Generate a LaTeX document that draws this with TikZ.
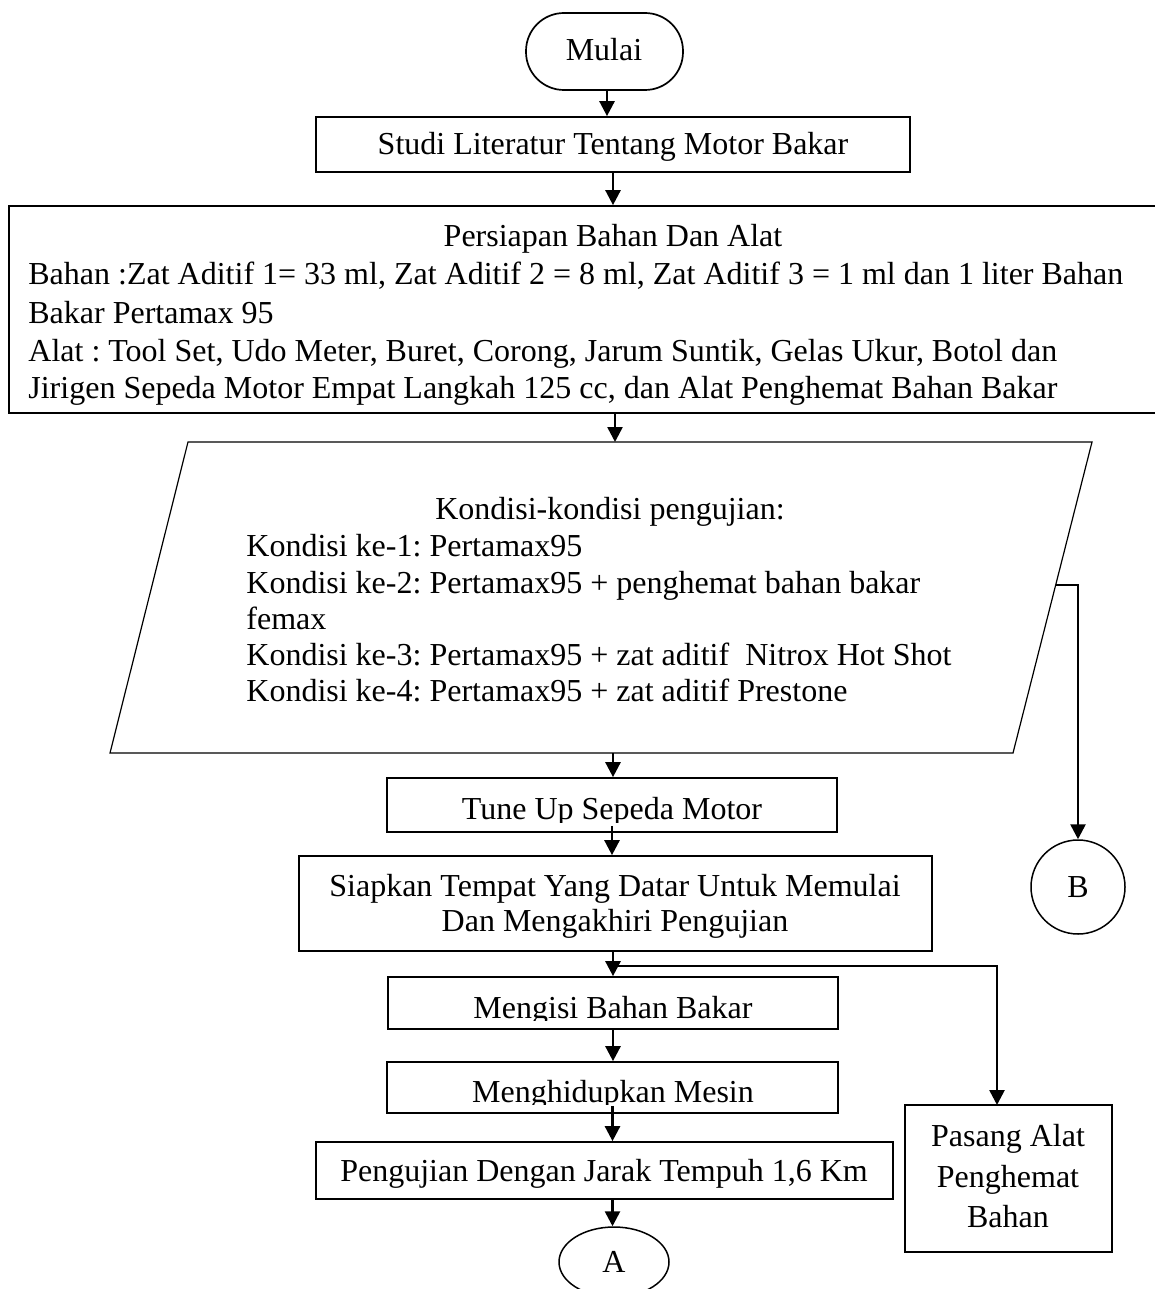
\documentclass[tikz,border=0pt]{standalone}
\usepackage{fontspec}
\setmainfont{Liberation Serif}
\usetikzlibrary{arrows.meta,fit,shapes.geometric}
\begin{document}
\frenchspacing
\begin{tikzpicture}[x=0.5pt,y=-0.5pt,
  font=\fontsize{16}{19}\selectfont,
  box/.style={draw, line width=0.85pt, inner sep=0pt},
  txt/.style={inner sep=0pt, anchor=base},
  ltxt/.style={inner sep=0pt, anchor=base west},
  arr/.style={line width=1.3pt, -{Triangle[length=7.5pt,width=7.5pt]}},
  conn/.style={line width=1.3pt}]
\useasboundingbox (0,0) rectangle (1155,1289);

% Mulai
\node[box, rounded corners=19pt, fit={(526,13) (683,90)}] (mulai) {};
\node[txt] (mulaitxt) at (604,61) {Mulai};

% Studi
\node[box, fit={(316,117) (910,172)}] (studi) {};
\node[txt] (studitxt) at (613,155) {Studi Literatur Tentang Motor Bakar};

% Persiapan
\node[box, fit={(9,206) (1175,413)}] (pers) {};
\node[txt] (pers0) at (613,247) {Persiapan Bahan Dan Alat};
\node[ltxt] (pers1) at (28,285) {Bahan :Zat Aditif 1= 33 ml, Zat Aditif 2 = 8 ml, Zat Aditif 3 = 1 ml dan 1 liter Bahan};
\node[ltxt] (pers2) at (28,323) {Bakar Pertamax 95};
\node[ltxt] (pers3) at (28,361) {Alat : Tool Set, Udo Meter, Buret, Corong, Jarum Suntik, Gelas Ukur, Botol dan};
\node[ltxt] (pers4) at (28,398) {Jirigen Sepeda Motor Empat Langkah 125 cc, dan Alat Penghemat Bahan Bakar};

% Parallelogram
\coordinate (q1) at (188,442);
\coordinate (q2) at (1092,442);
\coordinate (q3) at (1013,753);
\coordinate (q4) at (110,753);
\draw[line width=0.6pt] (q1) -- (q2) -- (q3) -- (q4) -- cycle;
\coordinate (qin) at (615,442);
\coordinate (qout) at (613,753);
\coordinate (qB) at (1056,585);
\node[txt] (k0) at (610,519) {Kondisi-kondisi pengujian:};
\node[ltxt] (k1) at (246,556) {Kondisi ke-1: Pertamax95};
\node[ltxt] (k2) at (246,593) {Kondisi ke-2: Pertamax95 + penghemat bahan bakar};
\node[ltxt] (k3) at (246,629) {femax};
\node[ltxt] (k4) at (246,665) {Kondisi ke-3: Pertamax95 + zat aditif \ Nitrox Hot Shot};
\node[ltxt] (k5) at (246,701) {Kondisi ke-4: Pertamax95 + zat aditif Prestone};

% B connector
\node[draw, circle, line width=0.75pt, minimum size=47pt, inner sep=0pt] (B) at (1078,887) {B};

% Tune up
\node[box, fit={(387,778) (837,832)}] (tune) {};
\begin{scope}
\clip (387,778) rectangle (837,822);
\node[txt] (tunetxt) at (612,819) {Tune Up Sepeda Motor};
\end{scope}

% Siapkan
\node[box, fit={(299,856) (932,951)}] (siap) {};
\node[txt] (siap1) at (615,896) {Siapkan Tempat Yang Datar Untuk Memulai};
\node[txt] (siap2) at (615,931) {Dan Mengakhiri Pengujian};

% Mengisi
\node[box, fit={(388,977) (838,1029)}] (isi) {};
\begin{scope}
\clip (388,977) rectangle (838,1020);
\node[txt] (isitxt) at (613,1018) {Mengisi Bahan Bakar};
\end{scope}

% Menghidupkan
\node[box, fit={(387,1062) (838,1113)}] (hidup) {};
\begin{scope}
\clip (387,1062) rectangle (838,1104);
\node[txt] (hiduptxt) at (613,1102) {Menghidupkan Mesin};
\end{scope}

% Pengujian
\node[box, fit={(316,1142) (893,1199)}] (uji) {};
\node[txt] (ujitxt) at (604,1181) {Pengujian Dengan Jarak Tempuh 1,6 Km};

% A
\node[draw, ellipse, line width=0.75pt, minimum width=55pt, minimum height=35pt, inner sep=0pt] (A) at (614,1262) {A};

% Pasang
\node[box, fit={(905,1105) (1112,1252)}] (pasang) {};
\node[txt] (pas1) at (1008,1146) {Pasang Alat};
\node[txt] (pas2) at (1008,1187) {Penghemat};
\node[txt] (pas3) at (1008,1227) {Bahan};

% connectors
\coordinate (a1) at (607,90);
\draw[arr] (mulai.south -| a1) -- (studi.north -| a1);
\coordinate (a2) at (613,172);
\draw[arr] (studi.south -| a2) -- (pers.north -| a2);
\draw[arr] (pers.south -| qin) -- (qin);
\draw[arr] (qout) -- (tune.north -| qout);
\draw[arr] (qB) -| (B.north);
\draw[arr] ([yshift=3.5pt]tune.south) -- (tune.south |- siap.north);
\coordinate (j) at (613,966);
\draw[arr] (siap.south -| j) -- (isi.north -| j);
\coordinate (pin) at (997,1105);
\draw[arr] (j) -| (pin);
\draw[arr] (isi.south) -- (hidup.north -| isi.south);
\draw[arr] ([yshift=4pt]hidup.south) -- (uji.north -| hidup.south);
\draw[arr] (uji.south -| hidup.south) -- (A.north -| hidup.south);
\end{tikzpicture}
\end{document}
